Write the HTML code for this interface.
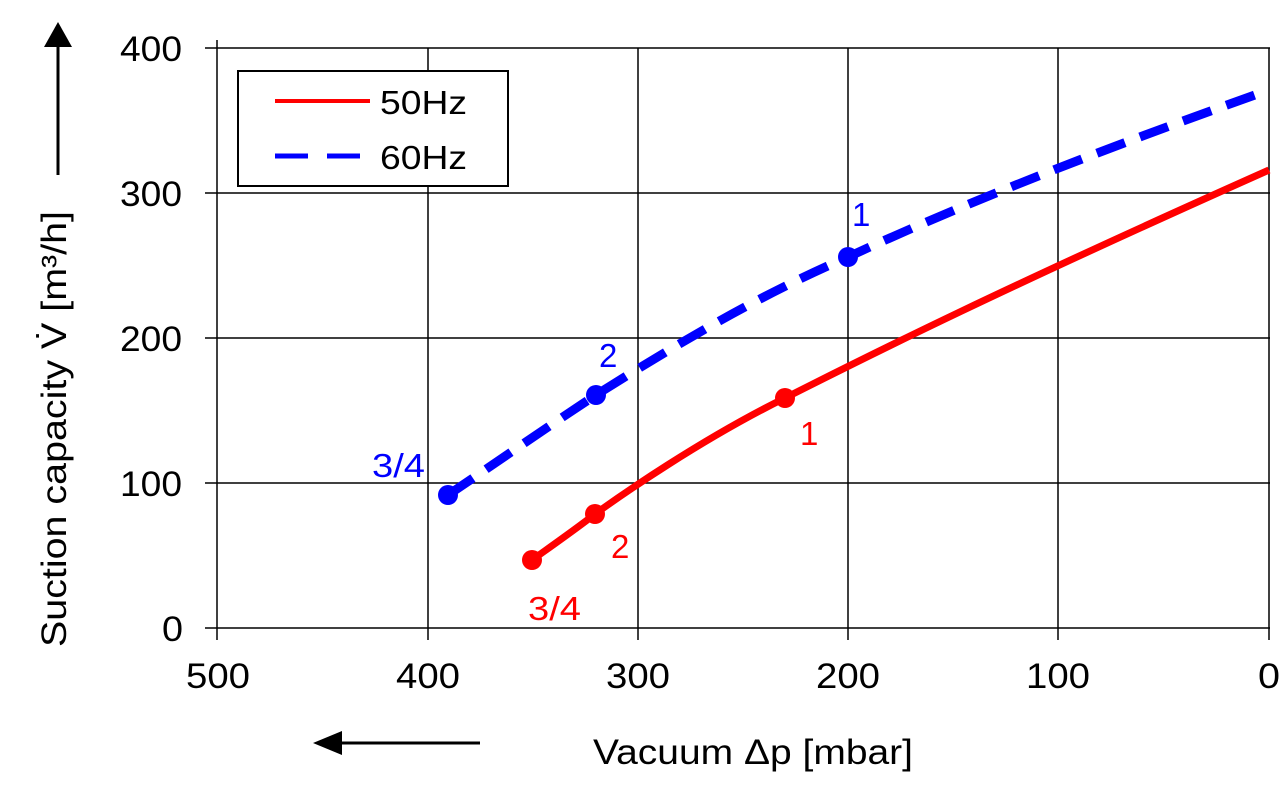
<!DOCTYPE html>
<html><head><meta charset="utf-8"><style>
html,body{margin:0;padding:0;background:#fff;}
text{font-family:"Liberation Sans",Arial,sans-serif;}
</style></head><body>
<svg width="1285" height="785" viewBox="0 0 1285 785" xmlns="http://www.w3.org/2000/svg">
<g stroke="#000" stroke-width="1.5">
<line x1="205" y1="48" x2="1270" y2="48"/>
<line x1="205" y1="193" x2="1270" y2="193"/>
<line x1="205" y1="338" x2="1270" y2="338"/>
<line x1="205" y1="483" x2="1270" y2="483"/>
<line x1="205" y1="628" x2="1270" y2="628"/>
<line x1="217" y1="40" x2="217" y2="640"/>
<line x1="428" y1="48" x2="428" y2="640"/>
<line x1="638" y1="48" x2="638" y2="640"/>
<line x1="848" y1="48" x2="848" y2="640"/>
<line x1="1058" y1="48" x2="1058" y2="640"/>
<line x1="1269" y1="48" x2="1269" y2="640"/>
</g>
<g font-size="35" fill="#000">
<text x="120" y="61" textLength="62" lengthAdjust="spacingAndGlyphs">400</text>
<text x="120" y="206" textLength="62" lengthAdjust="spacingAndGlyphs">300</text>
<text x="120" y="351" textLength="62" lengthAdjust="spacingAndGlyphs">200</text>
<text x="120" y="496" textLength="62" lengthAdjust="spacingAndGlyphs">100</text>
<text x="162" y="641" textLength="21" lengthAdjust="spacingAndGlyphs">0</text>
</g>
<g font-size="35" fill="#000">
<text x="186" y="688" textLength="64" lengthAdjust="spacingAndGlyphs">500</text>
<text x="396" y="688" textLength="64" lengthAdjust="spacingAndGlyphs">400</text>
<text x="606" y="688" textLength="64" lengthAdjust="spacingAndGlyphs">300</text>
<text x="816" y="688" textLength="64" lengthAdjust="spacingAndGlyphs">200</text>
<text x="1026" y="688" textLength="64" lengthAdjust="spacingAndGlyphs">100</text>
<text x="1258" y="688" textLength="22" lengthAdjust="spacingAndGlyphs">0</text>
</g>
<text x="593" y="764" font-size="35" textLength="320" lengthAdjust="spacingAndGlyphs">Vacuum Δp [mbar]</text>
<line x1="480" y1="743" x2="335" y2="743" stroke="#000" stroke-width="3"/>
<polygon points="313,743 342,731 342,755" fill="#000"/>
<line x1="58" y1="175" x2="58" y2="45" stroke="#000" stroke-width="3"/>
<polygon points="58,22 44,47 72,47" fill="#000"/>
<text transform="translate(66,647) rotate(-90)" font-size="35" textLength="436" lengthAdjust="spacingAndGlyphs">Suction capacity V̇ [m³/h]</text>
<rect x="238" y="71" width="270" height="115" fill="#fff" stroke="#000" stroke-width="2"/>
<line x1="275" y1="101" x2="370" y2="101" stroke="#f00" stroke-width="4"/>
<line x1="275" y1="156" x2="370" y2="156" stroke="#00f" stroke-width="5" stroke-dasharray="33,19"/>
<text x="380" y="114" font-size="33" textLength="87" lengthAdjust="spacingAndGlyphs">50Hz</text>
<text x="380" y="169" font-size="33" textLength="87" lengthAdjust="spacingAndGlyphs">60Hz</text>
<path d="M532,560 C560,540 580,526 595,514 C620,496 700,440 785,398 C880,350 1000,290 1269,170" fill="none" stroke="#f00" stroke-width="7"/>
<path d="M448,495 C500,460 550,425 596,395 C680,342 760,295 848,257 C960,205 1100,150 1269,90" fill="none" stroke="#00f" stroke-width="9" stroke-dasharray="30,16"/>
<g fill="#f00"><circle cx="532" cy="560" r="10"/><circle cx="595" cy="514" r="10"/><circle cx="785" cy="398" r="10"/></g>
<g fill="#00f"><circle cx="448" cy="495" r="10"/><circle cx="596" cy="395" r="10"/><circle cx="848" cy="257" r="10"/></g>
<g font-size="33" fill="#00f"><text x="852" y="226">1</text><text x="599" y="367">2</text><text x="372" y="477" textLength="53" lengthAdjust="spacingAndGlyphs">3/4</text></g>
<g font-size="33" fill="#f00"><text x="800" y="445">1</text><text x="611" y="558">2</text><text x="528" y="620" textLength="53" lengthAdjust="spacingAndGlyphs">3/4</text></g>
</svg>
</body></html>
